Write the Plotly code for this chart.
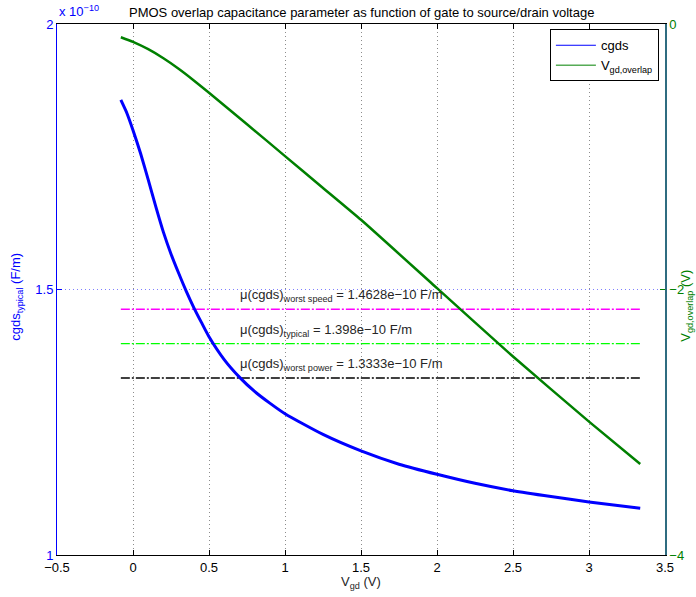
import plotly.graph_objects as go

# ---- data ----
vgd_c = [-0.08, -0.04, 0.0, 0.05, 0.1, 0.15, 0.2, 0.25, 0.3, 0.35, 0.4, 0.45, 0.5, 0.6, 0.7, 0.8, 0.9, 1.0,
         1.25, 1.5, 1.75, 2.0, 2.25, 2.5, 2.75, 3.0, 3.337]
cgds = [1.857e-10, 1.832e-10, 1.800e-10, 1.756e-10, 1.707e-10, 1.656e-10, 1.608e-10, 1.567e-10, 1.531e-10,
        1.497e-10, 1.466e-10, 1.438e-10, 1.411e-10, 1.368e-10, 1.335e-10, 1.308e-10, 1.286e-10, 1.266e-10,
        1.227e-10, 1.196e-10, 1.171e-10, 1.152e-10, 1.135e-10, 1.121e-10, 1.110e-10, 1.100e-10, 1.088e-10]

vgd_o = [-0.08, 0.0, 0.1, 0.2, 0.3, 0.4, 0.5, 0.75, 1.0, 1.25, 1.5, 2.0, 2.5, 3.0, 3.337]
v_overlap = [-0.100, -0.135, -0.190, -0.258, -0.337, -0.425, -0.518, -0.755, -0.995, -1.235, -1.475,
             -1.990, -2.505, -2.995, -3.315]

mean_names = ["worst speed", "typical", "worst power"]
mean_values = [1.4628e-10, 1.398e-10, 1.3333e-10]
mean_labels = ["1.4628e−10", "1.398e−10", "1.3333e−10"]
mean_colors = ["#ff00ff", "#00ff00", "#000000"]

x_ticks = [-0.5, 0, 0.5, 1, 1.5, 2, 2.5, 3, 3.5]
x_ticktext = ["−0.5", "0", "0.5", "1", "1.5", "2", "2.5", "3", "3.5"]
y1_ticks = [1e-10, 1.5e-10, 2e-10]
y1_ticktext = ["1", "1.5", "2"]
y2_ticks = [-4, -2, 0]
y2_ticktext = ["−4", "−2", "0"]

FONT = "Liberation Sans, Arial, Helvetica, sans-serif"
BLUE = "#0000ff"
GREEN = "#008000"

fig = go.Figure()

xmin, xmax = min(vgd_c), max(vgd_c)
for name, val, col in zip(mean_names, mean_values, mean_colors):
    fig.add_trace(go.Scatter(x=[xmin, xmax], y=[val, val], mode="lines",
                             line=dict(color=col, width=1.3, dash="9px,2px,2px,2px"),
                             showlegend=False, hoverinfo="skip"))

fig.add_trace(go.Scatter(x=vgd_c, y=cgds, mode="lines", name="cgds", showlegend=False,
                         line=dict(color=BLUE, width=3, shape="spline", smoothing=0.6)))
fig.add_trace(go.Scatter(x=vgd_o, y=v_overlap, mode="lines", name="V<sub>gd,overlap</sub>",
                         yaxis="y2", showlegend=False,
                         line=dict(color=GREEN, width=2.5, shape="spline", smoothing=0.5)))

# legend-only entries with thin sample lines (as in the reference legend)
fig.add_trace(go.Scatter(x=[None], y=[None], mode="lines", name="cgds",
                         line=dict(color=BLUE, width=1)))
fig.add_trace(go.Scatter(x=[None], y=[None], mode="lines", name="V<sub>gd,overlap</sub>",
                         line=dict(color=GREEN, width=1)))

for name, val, lab in zip(mean_names, mean_values, mean_labels):
    fig.add_annotation(x=0.69, y=val + 0.025e-10, xref="x", yref="y",
                       text=f"μ(cgds)<sub>{name}</sub> = {lab} F/m",
                       showarrow=False, xanchor="left", yanchor="middle",
                       font=dict(family=FONT, size=13, color="#262626"))

fig.update_layout(
    width=696, height=597,
    margin=dict(l=57, r=29, t=24, b=42),
    paper_bgcolor="white", plot_bgcolor="white",
    font=dict(family=FONT, size=13, color="black"),
    showlegend=True,
    legend=dict(x=0.99, y=0.99, xanchor="right", yanchor="top",
                bgcolor="white", bordercolor="black", borderwidth=1,
                font=dict(family=FONT, size=13, color="black"),
                tracegroupgap=0, itemwidth=40),
    xaxis=dict(range=[-0.5, 3.5], tickvals=x_ticks, ticktext=x_ticktext,
               showline=True, linecolor="black", linewidth=1, mirror="ticks",
               ticks="inside", ticklen=5, tickcolor="black",
               showgrid=True, gridcolor="#8c8c8c", griddash="1px,3px", gridwidth=1,
               zeroline=False, tickfont=dict(size=13, color="black")),
    yaxis=dict(range=[1e-10, 2e-10], tickvals=y1_ticks, ticktext=y1_ticktext,
               showline=True, linecolor=BLUE, linewidth=1,
               ticks="inside", ticklen=5, tickcolor=BLUE,
               showgrid=True, gridcolor="#7f7fff", griddash="1px,3px", gridwidth=1,
               zeroline=False, tickfont=dict(size=13, color=BLUE)),
    yaxis2=dict(range=[-4, 0], tickvals=y2_ticks, ticktext=y2_ticktext,
                overlaying="y", side="right", anchor="x",
                showline=True, linecolor="#2f6c80", linewidth=1.5,
                ticks="inside", ticklen=5, tickcolor=GREEN,
                showgrid=False, zeroline=False, tickfont=dict(size=13, color=GREEN)),
)

# title
fig.add_annotation(text="PMOS overlap capacitance parameter as function of gate to source/drain voltage",
                   xref="paper", yref="paper", x=0.5, y=1, yshift=12, xanchor="center", yanchor="middle",
                   showarrow=False, font=dict(family=FONT, size=13, color="black"))
# exponent
fig.add_annotation(text="x 10<sup>−10</sup>", xref="paper", yref="paper", x=0, y=1, yshift=3,
                   xanchor="left", yanchor="bottom", showarrow=False,
                   font=dict(family=FONT, size=13, color=BLUE))
# axis titles
fig.add_annotation(text="cgds<sub>typical</sub> (F/m)", xref="paper", yref="paper",
                   x=-0.066, y=0.486, textangle=-90, xanchor="center", yanchor="middle",
                   showarrow=False, font=dict(family=FONT, size=13, color=BLUE))
fig.add_annotation(text="V<sub>gd,overlap</sub> (V)", xref="paper", yref="paper",
                   x=1.035, y=0.47, textangle=-90, xanchor="center", yanchor="middle",
                   showarrow=False, font=dict(family=FONT, size=13, color=GREEN))
fig.add_annotation(text="V<sub>gd</sub> (V)", xref="paper", yref="paper",
                   x=0.5, y=-0.052, xanchor="center", yanchor="middle",
                   showarrow=False, font=dict(family=FONT, size=13, color="#262626"))

fig.write_html("out.html")
